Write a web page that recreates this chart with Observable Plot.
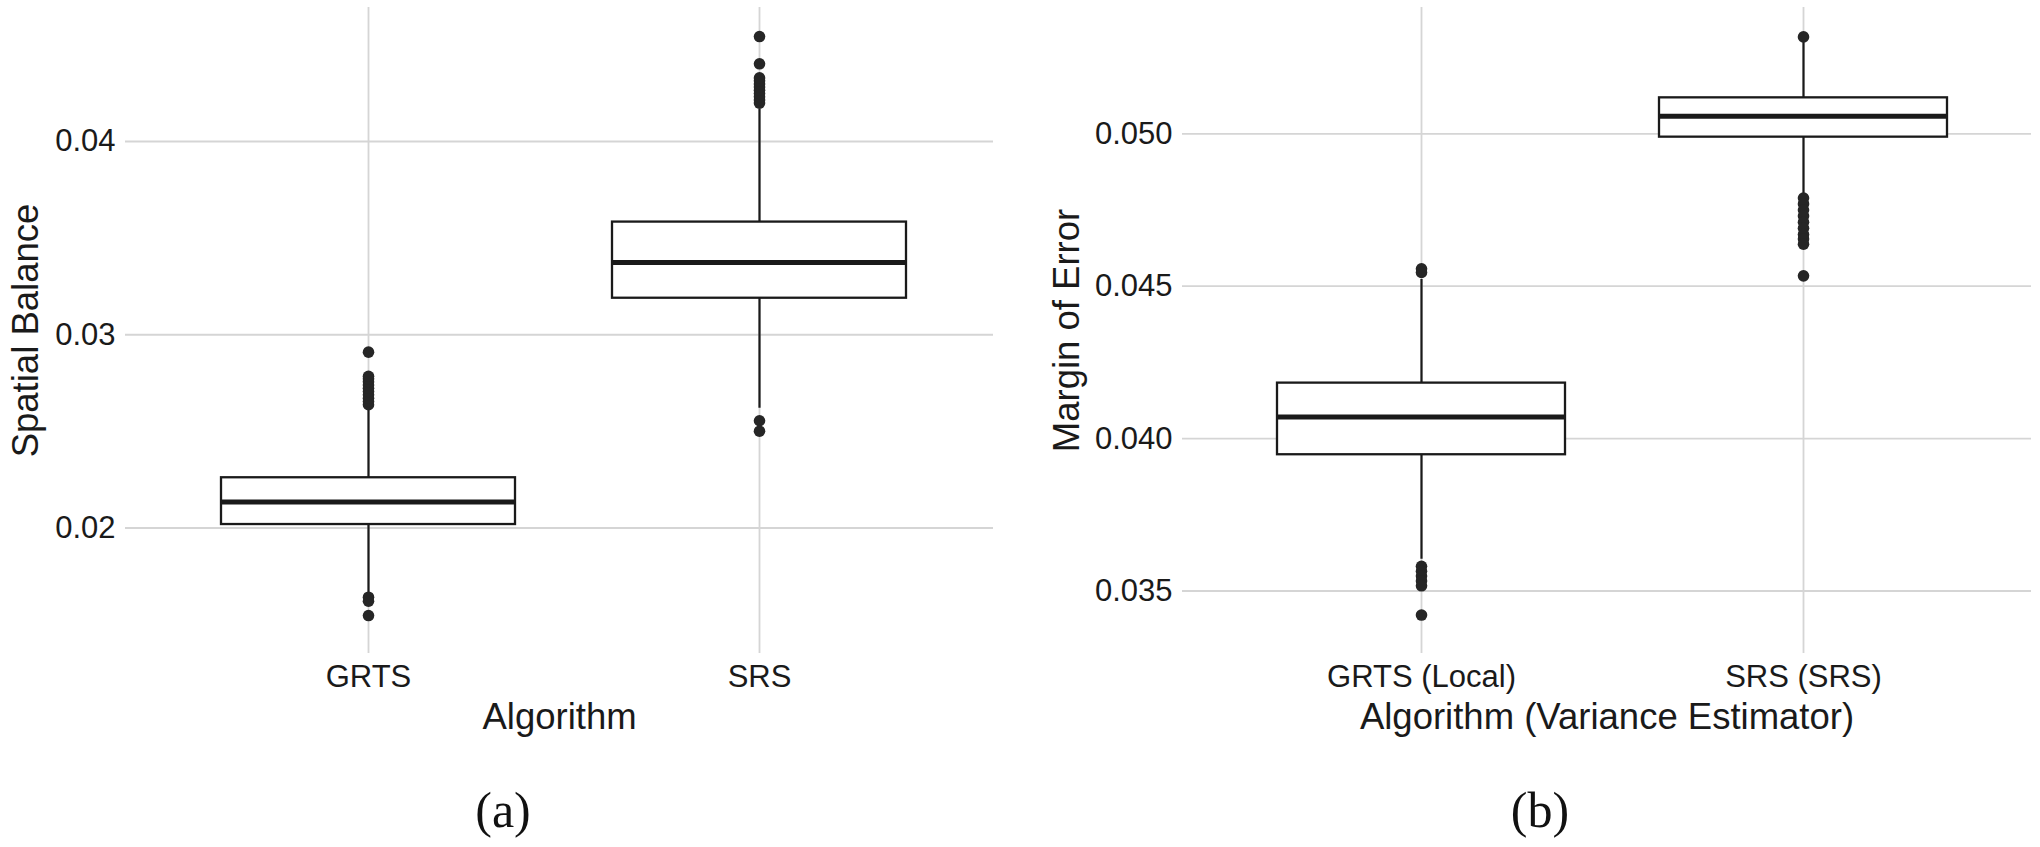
<!DOCTYPE html>
<html>
<head>
<meta charset="utf-8">
<script src="https://cdn.jsdelivr.net/npm/d3@7"></script>
<script src="https://cdn.jsdelivr.net/npm/@observablehq/plot@0.6"></script>
<style>
  html, body { margin: 0; padding: 0; background: white; }
  #wrap { position: relative; width: 2040px; height: 847px; overflow: hidden; background: white; }
  .panel { position: absolute; top: 0; }
  .cap { position: absolute; font-family: "Liberation Serif", "DejaVu Serif", serif; font-size: 50px; line-height: 50px; color: #111; transform: translateX(-50%); white-space: nowrap; }
</style>
</head>
<body>
<div id="wrap">
  <div id="pa" class="panel" style="left:0px"></div>
  <div id="pb" class="panel" style="left:1010px"></div>
  <div class="cap" style="left:503px; top:785px">(a)</div>
  <div class="cap" style="left:1540px; top:785px">(b)</div>
</div>
<script>
// ---- Panel (a): Spatial Balance ----
const catsA = ["GRTS", "SRS"];
const loA  = [0.01660, 0.02620];
const q1A  = [0.02018, 0.03189];
const medA = [0.02134, 0.03374];
const q3A  = [0.02260, 0.03583];
const hiA  = [0.02615, 0.04170];
const outA_GRTS = [0.02638, 0.02655, 0.02672, 0.02689, 0.02706, 0.02723, 0.02740, 0.02757, 0.02772, 0.02785, 0.02910, 0.01642, 0.01621, 0.01547];
const outA_SRS  = [0.04199, 0.04215, 0.04232, 0.04248, 0.04265, 0.04282, 0.04298, 0.04314, 0.04329, 0.04402, 0.04543, 0.02555, 0.02501];
const yTicksA = [0.02, 0.03, 0.04];

// ---- Panel (b): Margin of Error ----
const catsB = ["GRTS (Local)", "SRS (SRS)"];
const loB  = [0.03604, 0.04796];
const q1B  = [0.03947, 0.04989];
const medB = [0.04071, 0.05058];
const q3B  = [0.04182, 0.05118];
const hiB  = [0.04522, 0.05300];
const outB_GRTS = [0.04557, 0.04545, 0.03581, 0.03565, 0.03549, 0.03533, 0.03517, 0.03421];
const outB_SRS  = [0.05318, 0.04789, 0.04770, 0.04750, 0.04730, 0.04710, 0.04690, 0.04670, 0.04655, 0.04638, 0.04534];
const yTicksB = [0.035, 0.040, 0.045, 0.050];

function stats(cats, lo, q1, med, q3, hi) {
  return cats.map((c, i) => ({cat: c, lo: lo[i], q1: q1[i], med: med[i], q3: q3[i], hi: hi[i]}));
}
function outs(cats, lists) {
  return lists.flatMap((l, i) => l.map(v => ({cat: cats[i], v})));
}

const INK = "#1a1a1a";
const GRID = "#d5d5d5";

function panel(o) {
  return Plot.plot({
    width: o.width, height: 760,
    marginTop: 7, marginBottom: 107, marginLeft: o.marginLeft, marginRight: o.marginRight,
    style: {fontFamily: "'Liberation Sans', Arial, Helvetica, sans-serif", fontSize: "31px", color: INK, background: "white", overflow: "visible"},
    x: {type: "band", domain: o.cats, range: o.xRange, paddingInner: 0.247, paddingOuter: 0.1235, align: 0.5},
    y: {domain: o.yDomain},
    marks: [
      Plot.gridY(o.yTicks, {stroke: GRID, strokeOpacity: 1, strokeWidth: 1.8}),
      Plot.ruleX(o.cats, {stroke: GRID, strokeOpacity: 1, strokeWidth: 1.8}),
      Plot.axisY(o.yTicks, {tickSize: 0, tickPadding: 10, tickFormat: d3.format(o.yFormat), label: null}),
      Plot.axisX({tickSize: 0, tickPadding: 11, label: null}),
      Plot.ruleX(o.stats, {x: "cat", y1: "lo", y2: "hi", stroke: INK, strokeWidth: 2.2}),
      Plot.barY(o.stats, {x: "cat", y1: "q1", y2: "q3", fill: "white", stroke: INK, strokeWidth: 2.3}),
      Plot.tickY(o.stats, {x: "cat", y: "med", stroke: INK, strokeWidth: 5}),
      Plot.dot(o.outliers, {x: "cat", y: "v", r: 5.8, fill: "#262626", stroke: "none"}),
      Plot.text([o.yLabel], {text: d => d, frameAnchor: "left", rotate: -90, dx: o.yLabelDx, textAnchor: "middle", lineAnchor: "bottom", fontSize: 36.5, fill: INK}),
      Plot.text([o.xLabel], {text: d => d, frameAnchor: "bottom", dy: 75, lineAnchor: "bottom", fontSize: 36.5, fill: INK})
    ]
  });
}

document.getElementById("pa").append(panel({
  width: 1010, marginLeft: 125, marginRight: 17,
  cats: catsA, xRange: [172.5, 954.5],
  yDomain: [0.013506, 0.046934], yTicks: yTicksA, yFormat: ".2f",
  stats: stats(catsA, loA, q1A, medA, q3A, hiA),
  outliers: outs(catsA, [outA_GRTS, outA_SRS]),
  yLabel: "Spatial Balance", yLabelDx: -88, xLabel: "Algorithm"
}));

document.getElementById("pb").append(panel({
  width: 1030, marginLeft: 172, marginRight: 9,
  cats: catsB, xRange: [219.75, 984.75],
  yDomain: [0.032949, 0.054144], yTicks: yTicksB, yFormat: ".3f",
  stats: stats(catsB, loB, q1B, medB, q3B, hiB),
  outliers: outs(catsB, [outB_GRTS, outB_SRS]),
  yLabel: "Margin of Error", yLabelDx: -104, xLabel: "Algorithm (Variance Estimator)"
}));
</script>
</body>
</html>
